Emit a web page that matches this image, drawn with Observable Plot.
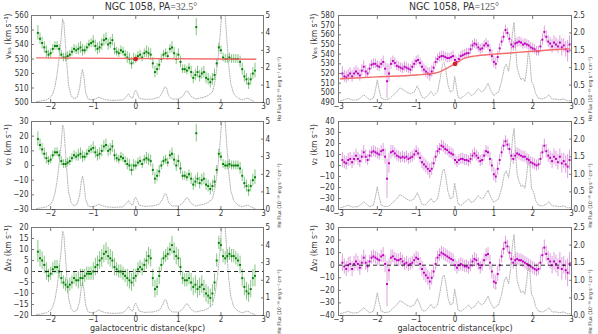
<!DOCTYPE html>
<html><head><meta charset="utf-8">
<script src="https://cdn.jsdelivr.net/npm/d3@7"></script>
<script src="https://cdn.jsdelivr.net/npm/@observablehq/plot@0.6"></script>
<style>
body{margin:0;background:#fff}
#c{position:relative;width:598px;height:334px;overflow:hidden;background:#fff}
#c svg{position:absolute;left:0;top:0}
.t{position:absolute;font-family:"DejaVu Sans Condensed","DejaVu Sans",sans-serif;font-stretch:condensed;font-size:10.5px;color:#333;white-space:nowrap;transform:translateX(-50%)}
.t span{font-family:"Liberation Serif","DejaVu Serif",serif;font-size:10px;color:#555}
</style></head><body><div id="c"></div><script>
// ---------- left column: PA = 32.5 ----------
const xL = [-2.3,-2.25,-2.2,-2.15,-2.1,-2.05,-2,-1.95,-1.9,-1.85,-1.8,-1.75,-1.7,-1.65,-1.6,-1.55,-1.5,-1.45,-1.4,-1.35,-1.3,-1.25,-1.2,-1.15,-1.1,-1.05,-1,-0.95,-0.9,-0.85,-0.8,-0.75,-0.7,-0.65,-0.6,-0.55,-0.5,-0.45,-0.4,-0.35,-0.3,-0.25,-0.2,-0.15,-0.1,-0.05,0,0.05,0.1,0.15,0.2,0.25,0.3,0.35,0.4,0.45,0.5,0.55,0.6,0.65,0.7,0.75,0.8,0.85,0.9,0.95,1,1.05,1.1,1.15,1.2,1.25,1.3,1.35,1.4,1.45,1.5,1.55,1.6,1.65,1.7,1.75,1.8,1.85,1.9,1.95,2,2.05,2.1,2.15,2.2,2.25,2.3,2.35,2.4,2.45,2.5,2.55,2.6,2.65,2.7,2.75,2.8];
const vlosL = [548,544,541,538,535,533,534,537,539,539, 537,533,531,531,532,533,535,537,536,537, 538,536,536,538,540,541,542,539,537,538, 540,543,544,540,541,543,537,535,534,536, 535,533,531,530,527,530,530,532,533,531, 534,535,534,533,527,521,523,526,530,533, 534,532,537,538,534,530,533,528,523,523, 522,524,521,517,519,521,518,520,521,517, 516,514,516,519,527,538,536,531,530,530, 531,530,530,530,530,528,523,518,516,513, 516,520,522];
const v2L = [18,14,11,8,5,3,4,7,9,9, 7,3,1,1,2,3,5,7,6,7, 8,6,6,8,10,11,12,9,7,8, 10,13,14,10,11,13,7,5,4,6, 5,3,1,0,-3,0,0,2,3,1, 4,5,4,3,-3,-9,-7,-4,0,3, 4,2,7,8,4,0,3,-2,-7,-7, -8,-6,-9,-13,-11,-9,-12,-10,-9,-13, -14,-16,-14,-11,-3,8,6,1,0,0, 1,0,0,0,0,-2,-7,-12,-14,-17, -14,-10,-8];
const dv2L = [9,6,5,3,0,-2,-1,1,2,2, 0,-3,-5,-6,-7,-6,-5,-3,-4,-4, -3,-3,-2,-1,-1,-1,0,2,3,5, 6,8,9,7,6,5,2,1,0,0, -1,-2,-3,-4,-5,-3,-2,1,2,1, 3,5,7,6,-3,-8,-7,-2,3,6, 7,8,10,12,9,7,6,2,-3,-4, -4,-3,-5,-7,-6,-8,-7,-6,-8,-10, -11,-12,-10,-5,5,13,12,7,6,7, 8,7,7,6,5,3,-3,-7,-9,-10, -8,-3,-2];
const errL = [5,4,4,4,4,3,3,3,3,3, 3,3,3,3,3,3,3,3,3,4, 4,4,3,3,3,3,4,4,4,4, 4,4,4,4,4,4,4,3,3,3, 3,3,4,4,4,4,3,3,3,3, 3,4,4,4,4,4,4,4,3,3, 3,3,3,4,4,4,4,4,3,3, 3,3,4,4,4,4,4,4,4,4, 4,4,4,4,3,3,3,3,3,3, 3,3,3,3,3,4,4,4,4,4, 4,4,5];
const outXL = [1.42], outVlosL = [552], outV2L = [22], outErrL = [6];
const rotXL = [-2.33, 2.82], rotL = [530.8, 529.8];
const fluxXL = [-2.33,-2.2,-2.1,-2,-1.95,-1.9,-1.85,-1.8,-1.75,-1.72,-1.69,-1.66,-1.62,-1.58,-1.52,-1.45,-1.38,-1.32,-1.28,-1.25,-1.22,-1.18,-1.12,-1.05,-0.95,-0.88,-0.82,-0.7,-0.5,-0.3,-0.22,-0.17,-0.12,-0.07,-0.03,0,0.03,0.08,0.2,0.4,0.55,0.63,0.68,0.72,0.77,0.85,1,1.1,1.18,1.22,1.3,1.4,1.5,1.6,1.7,1.8,1.86,1.92,1.97,2,2.03,2.07,2.1,2.14,2.18,2.23,2.3,2.4,2.5,2.58,2.63,2.7,2.8];
const fluxL = [0.05,0.1,0.15,0.3,0.5,0.9,1.6,2.6,3.8,4.8,4.6,3.6,2.2,1,0.4,0.2,0.3,0.8,1.6,1.9,1.5,0.6,0.2,0.15,0.2,0.3,0.25,0.15,0.12,0.15,0.35,0.5,0.3,0.25,0.6,0.7,0.55,0.25,0.18,0.2,0.3,0.6,0.9,0.85,0.4,0.2,0.2,0.35,0.65,0.65,0.35,0.2,0.25,0.3,0.4,0.6,1.2,2.2,3.5,4.5,5.3,5.6,5,3.6,2.2,1.1,0.5,0.25,0.15,0.22,0.25,0.15,0.05];
// ---------- right column: PA = 125 ----------
const xR = [-2.9,-2.85,-2.8,-2.75,-2.7,-2.65,-2.6,-2.55,-2.5,-2.45,-2.4,-2.35,-2.3,-2.25,-2.2,-2.15,-2.1,-2.05,-2,-1.95,-1.9,-1.85,-1.8,-1.75,-1.7,-1.65,-1.6,-1.55,-1.5,-1.45,-1.4,-1.35,-1.3,-1.25,-1.2,-1.15,-1.1,-1.05,-1,-0.95,-0.9,-0.85,-0.8,-0.75,-0.7,-0.65,-0.6,-0.55,-0.5,-0.45,-0.4,-0.35,-0.3,-0.25,-0.2,-0.15,-0.1,-0.05,0,0.05,0.1,0.15,0.2,0.25,0.3,0.35,0.4,0.45,0.5,0.55,0.6,0.65,0.7,0.75,0.8,0.85,0.9,0.95,1,1.05,1.1,1.15,1.2,1.25,1.3,1.35,1.4,1.45,1.5,1.55,1.6,1.65,1.7,1.75,1.8,1.85,1.9,1.95,2,2.05,2.1,2.15,2.2,2.25,2.3,2.35,2.4,2.45,2.5,2.55,2.6,2.65,2.7,2.75,2.8,2.85,2.9,2.95];
const vlosR = [520,517,516,518,520,517,520,522,520,518, 523,527,522,520,525,529,530,530,528,527, 530,532,525,512,520,530,533,531,528,527, 526,525,527,526,525,524,527,530,533,534, 531,527,524,522,520,519,522,526,532,535, 537,538,538,537,536,536,537,538,534,532, 535,538,539,540,541,541,545,549,551,550, 547,545,546,549,551,549,544,538,532,530, 537,546,553,558,565,562,556,550,548,551, 552,553,552,550,551,550,549,547,546,545, 543,543,548,555,563,558,553,551,548,552, 550,548,552,547,549,545,543,550];
const v2R = [5,3,2,5,6,3,6,9,6,4, 8,12,8,5,9,12,13,12,11,10, 13,14,8,-12,2,12,13,11,9,8, 7,8,7,8,6,7,8,10,13,11, 7,3,1,-1,-3,-5,-3,2,8,13, 15,18,17,15,14,12,11,10,5,3, 5,6,6,5,5,4,6,9,11,9, 7,4,5,9,13,12,6,0,-8,-10, -3,5,12,18,22,19,15,9,6,9, 11,10,9,8,8,6,5,3,2,1, 0,1,6,12,18,13,9,7,4,8, 6,3,8,2,4,1,-1,5];
const dv2R = [2,-1,-3,0,1,-3,1,3,1,-2, 2,6,2,-1,3,6,7,6,5,4, 7,8,1,-15,-4,6,7,5,4,4, 5,3,1,2,0,1,2,4,6,5, 1,-3,-6,-8,-10,-13,-10,-5,1,6, 8,10,9,8,7,6,5,4,0,-2, 0,1,0,-1,-1,-2,0,3,5,4, 1,-2,0,4,8,9,2,-5,-13,-14, -7,0,7,13,18,15,10,5,2,4, 5,4,4,3,2,1,0,-1,-2,-3, -4,-3,2,8,14,9,5,3,0,3, 1,-2,3,-3,0,-4,-6,1];
const errR = [7,6,6,6,6,6,6,6,6,6, 6,6,6,5,5,5,5,5,5,5, 5,6,7,18,9,6,5,5,5,5, 5,5,5,5,5,5,5,5,5,5, 5,6,6,6,6,7,6,5,5,5, 5,5,5,5,5,5,5,5,5,5, 5,5,5,5,5,5,5,5,5,5, 5,5,5,5,5,5,6,6,6,6, 6,5,5,5,5,5,5,5,5,5, 5,5,5,5,5,5,5,5,5,5, 5,5,6,6,6,6,6,6,7,7, 7,7,7,9,7,8,11,9];
const rotXR = [-2.95,-2,-1,-0.5,-0.35,-0.2,-0.1,0,0.1,0.2,0.35,0.5,1,1.5,2,2.5,2.95];
const rotR = [514.5,516.5,518.5,520.5,522.5,525.5,528,530,532.5,535,537,538,540,541.5,543,544.5,545.5];
const fluxXR = [-2.95,-2.85,-2.75,-2.65,-2.5,-2.42,-2.35,-2.28,-2.2,-2.1,-2.05,-2,-1.96,-1.9,-1.8,-1.7,-1.6,-1.5,-1.42,-1.35,-1.25,-1.15,-1.05,-0.97,-0.92,-0.85,-0.78,-0.7,-0.62,-0.55,-0.45,-0.38,-0.32,-0.28,-0.24,-0.18,-0.12,-0.05,-0.01,0.03,0.08,0.15,0.25,0.35,0.42,0.5,0.6,0.68,0.75,0.85,0.92,1,1.05,1.12,1.2,1.27,1.32,1.38,1.43,1.48,1.52,1.56,1.6,1.65,1.7,1.75,1.8,1.85,1.89,1.93,1.97,2.02,2.08,2.15,2.25,2.35,2.42,2.5,2.6,2.7,2.8,2.9,2.97];
const fluxR = [0.05,0.08,0.12,0.07,0.08,0.15,0.22,0.15,0.08,0.12,0.35,0.65,0.4,0.12,0.08,0.1,0.2,0.3,0.42,0.38,0.3,0.25,0.3,0.48,0.35,0.15,0.12,0.2,0.32,0.2,0.3,0.7,1.1,1.15,0.95,0.5,0.3,0.35,0.75,0.5,0.15,0.12,0.2,0.3,0.2,0.25,0.4,0.3,0.35,0.55,0.35,0.2,0.25,0.3,0.6,1,1.1,0.9,1.3,2,2.3,1.6,1,0.8,0.65,0.7,0.6,1,1.5,1.2,0.6,0.5,0.25,0.12,0.1,0.15,0.22,0.1,0.1,0.08,0.1,0.05,0.05];
// ---------- ticks ----------
const xTicksL = [-2,-1,0,1,2,3], xTicksR = [-3,-2,-1,0,1,2,3];
const ticksVlosL = [500,510,520,530,540,550,560], ticksV2L = [-30,-20,-10,0,10,20,30], ticksDv2L = [-20,-15,-10,-5,0,5,10,15,20];
const ticksVlosR = [490,500,510,520,530,540,550,560,570,580], ticksV2R = [-40,-30,-20,-10,0,10,20,30,40], ticksDv2R = [-40,-30,-20,-10,0,10,20,30];
const ticksFluxL = [0,1,2,3,4,5], ticksFluxR = [0,0.5,1,1.5,2,2.5];
const labVlos = "vₗₒₛ (km s⁻¹)", labV2 = "v₂ (km s⁻¹)", labDv2 = "Δv₂ (km s⁻¹)";
const labFlux = "Hα Flux (10⁻¹⁶ erg s⁻¹ cm⁻²)", labX = "galactocentric distance(kpc)";

const FONT = '"DejaVu Sans Condensed","DejaVu Sans",sans-serif';
const FR = {l:[31,338], r:[263,571], t:[15,121,227], b:[102,209,315]};
const fmtInt = d3.format("d");
function base(col,row){
  return {width:598,height:334,
    marginLeft:FR.l[col], marginRight:598-FR.r[col], marginTop:FR.t[row], marginBottom:334-FR.b[row],
    style:{background:"none",fontFamily:FONT,fontStretch:"condensed",fontSize:"8px",color:"#333"}};
}
function dataPanel(o){
  const data = o.x.map((x,i)=>({x, y:o.y[i], e:o.err[i]}));
  if (o.ox) o.ox.forEach((x,i)=>data.push({x, y:o.oy[i], e:o.oe[i]}));
  const marks = [
    Plot.ruleX(data,{x:"x",y1:d=>d.y-d.e,y2:d=>d.y+d.e,stroke:o.eb,strokeWidth:0.9,strokeOpacity:0.8,clip:true}),
    Plot.dot(data,{x:"x",y:"y",r:1.1,symbol:"square",fill:o.color,stroke:"none",clip:true})
  ];
  if (o.zero) marks.push(Plot.ruleY([0],{stroke:"#111",strokeDasharray:"4,3",strokeWidth:0.9}));
  if (o.rx){
    marks.push(Plot.line(o.rx.map((x,i)=>({x,y:o.ry[i]})),{x:"x",y:"y",stroke:"#f26b6b",strokeWidth:1.4,curve:"monotone-x"}));
    marks.push(Plot.dot([{x:0,y:530}],{x:"x",y:"y",r:2.3,fill:"#d42020",stroke:"none"}));
  }
  marks.push(
    Plot.frame({stroke:"#777"}),
    Plot.axisY({ticks:o.yTicks,tickSize:-3,tickPadding:o.ytp,tickFormat:fmtInt,label:null,stroke:"#777"}),
    Plot.axisX({ticks:o.xTicks,tickSize:-3,tickPadding:3.5,tickFormat:fmtInt,label:null,stroke:"#777"}),
    Plot.axisX({anchor:"top",ticks:o.xTicks,tickSize:-3,tickFormat:()=>"",label:null,stroke:"#777"}),
    Plot.text([o.label],{frameAnchor:"left",dx:o.ldx,rotate:-90,text:d=>d,fontSize:8.5,fill:"#333"})
  );
  if (o.xlabel) marks.push(Plot.text([o.xlabel],{frameAnchor:"bottom",dy:15,text:d=>d,fontSize:9,fill:"#333"}));
  return Plot.plot({...base(o.col,o.row), x:{domain:o.xd}, y:{domain:o.yd}, marks});
}
function fluxPanel(o){
  const data = o.fx.map((x,i)=>({x, y:o.fy[i]}));
  return Plot.plot({...base(o.col,o.row), x:{domain:o.xd, axis:null}, y:{domain:o.fd, axis:null},
    marks:[
      Plot.line(data,{x:"x",y:"y",stroke:"#a8a8a8",strokeWidth:0.9,strokeDasharray:"1,1.4",clip:true}),
      Plot.axisY({anchor:"right",ticks:o.ft,tickSize:-3,tickPadding:5,tickFormat:o.ff,label:null,stroke:"#777"}),
      Plot.text([labFlux],{frameAnchor:"right",dx:o.fdx,dy:-2,rotate:-90,text:d=>d,fontSize:5.1,fill:"#333"})
    ]});
}
const c = document.getElementById("c");
const L = {col:0, xd:[-2.45,3], xTicks:xTicksL, color:"#008000", eb:"#55b055", ldx:-23, ytp:6, fx:fluxXL, fy:fluxL, fd:[0,5], ft:ticksFluxL, ff:d3.format("d"), fdx:16};
const R = {col:1, xd:[-3,3], xTicks:xTicksR, color:"#bf00bf", eb:"#d27ad2", ldx:-24, ytp:7, fx:fluxXR, fy:fluxR, fd:[0,2.5], ft:ticksFluxR, ff:d3.format(".1f"), fdx:19};
const panels = [
  {...L,row:0,x:xL,y:vlosL,err:errL,ox:outXL,oy:outVlosL,oe:outErrL,yd:[500,560],yTicks:ticksVlosL,label:labVlos,rx:rotXL,ry:rotL},
  {...L,row:1,x:xL,y:v2L,err:errL,ox:outXL,oy:outV2L,oe:outErrL,yd:[-30,30],yTicks:ticksV2L,label:labV2},
  {...L,row:2,x:xL,y:dv2L,err:errL,yd:[-20,20],yTicks:ticksDv2L,label:labDv2,zero:true,xlabel:labX},
  {...R,row:0,x:xR,y:vlosR,err:errR,yd:[490,580],yTicks:ticksVlosR,label:labVlos,rx:rotXR,ry:rotR},
  {...R,row:1,x:xR,y:v2R,err:errR,yd:[-40,40],yTicks:ticksV2R,label:labV2},
  {...R,row:2,x:xR,y:dv2R,err:errR,yd:[-40,30],yTicks:ticksDv2R,label:labDv2,zero:true,xlabel:labX}
];
for (const p of panels){ c.appendChild(fluxPanel(p)); c.appendChild(dataPanel(p)); }
const titles = [["NGC 1058, PA","=32.5°",151],["NGC 1058, PA","=125°",454]];
for (const [a,b,x] of titles){
  const d = document.createElement("div"); d.className="t"; d.style.left=x+"px"; d.style.top="0px";
  d.textContent=a; const s=document.createElement("span"); s.textContent=b; d.appendChild(s); c.appendChild(d);
}
</script></body></html>
